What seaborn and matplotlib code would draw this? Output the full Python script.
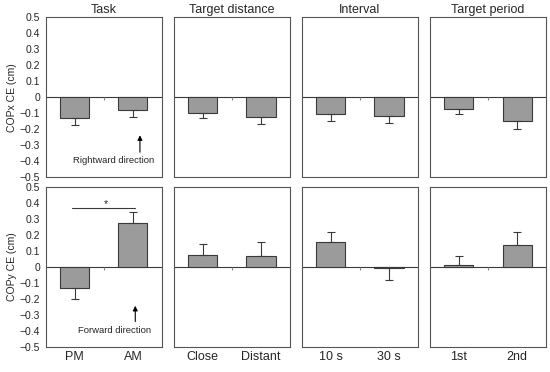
import numpy as np
import pandas as pd
import matplotlib
matplotlib.use("Agg")
from matplotlib import pyplot as plt
import seaborn as sns

# factor names and levels
factors = ["Task", "Target distance", "Interval", "Target period"]
levels = [["PM", "AM"], ["Close", "Distant"], ["10 s", "30 s"], ["1st", "2nd"]]

# COPx constant error (cm): means and error-bar ends
copx_mean = [[-0.13, -0.08], [-0.094, -0.125], [-0.104, -0.117], [-0.073, -0.148]]
copx_sd = [[0.043, 0.04], [0.036, 0.041], [0.04, 0.041], [0.033, 0.046]]

# COPy constant error (cm)
copy_mean = [[-0.13, 0.273], [0.073, 0.07], [0.154, -0.005], [0.013, 0.133]]
copy_sd = [[0.07, 0.071], [0.069, 0.084], [0.066, 0.078], [0.057, 0.087]]

sns.set_style("white")
plt.rcParams["font.family"] = ["Liberation Sans", "DejaVu Sans"]

fig, axes = plt.subplots(2, 4, figsize=(5.5, 3.72), dpi=100, sharey=True)
fig.subplots_adjust(left=0.083, right=0.993, top=0.953, bottom=0.068,
                    wspace=0.1, hspace=0.058)

rows = [(copx_mean, copx_sd, "COPx CE (cm)"), (copy_mean, copy_sd, "COPy CE (cm)")]
for r, (means, sds, ylab) in enumerate(rows):
    for c in range(4):
        ax = axes[r, c]
        df = pd.DataFrame({"level": levels[c], "ce": means[c]})
        sns.barplot(data=df, x="level", y="ce", ax=ax, color="#9b9b9b",
                    saturation=1, width=0.5, edgecolor="#3a3a3a", linewidth=0.8)
        m = np.array(means[c])
        s = np.array(sds[c])
        lower = np.where(m < 0, s, 0)
        upper = np.where(m >= 0, s, 0)
        ax.errorbar(range(len(m)), m, yerr=[lower, upper], fmt="none",
                    ecolor="#3a3a3a", elinewidth=0.8, capsize=3, capthick=0.8)
        ax.axhline(0, color="#3a3a3a", lw=0.8, zorder=0)
        ax.vlines(0.5, -0.018, 0, color="#888888", lw=0.8)
        ax.set_xlim(-0.5, 1.5)
        ax.set_ylim(-0.5, 0.5)
        ax.set_yticks(np.round(np.arange(-0.5, 0.51, 0.1), 1))
        ax.yaxis.set_major_formatter(matplotlib.ticker.FuncFormatter(
            lambda v, p: "0" if abs(v) < 1e-9 else ("%.1f" % v).replace("-", "\u2212")))
        ax.tick_params(axis="y", direction="out", length=3, width=0.6,
                       color="#555555", labelsize=7.5, pad=1)
        ax.tick_params(axis="x", length=0, labelsize=9, pad=3)
        for sp in ax.spines.values():
            sp.set_color("#555555")
            sp.set_linewidth(0.8)
        ax.set_xlabel("")
        if c == 0:
            ax.set_ylabel(ylab, fontsize=7.5, labelpad=2)
        else:
            ax.set_ylabel("")
            ax.tick_params(axis="y", labelleft=False)
        if r == 0:
            ax.set_title(factors[c], fontsize=9, pad=3)
            ax.set_xticklabels([])

# direction annotations
axes[0, 0].annotate("", xy=(1.12, -0.219), xytext=(1.12, -0.36),
                    arrowprops=dict(arrowstyle="-|>", color="black", lw=0.8,
                                    mutation_scale=7))
axes[0, 0].text(0.66, -0.397, "Rightward direction", fontsize=6.8,
                ha="center", va="center")
axes[1, 0].annotate("", xy=(1.04, -0.227), xytext=(1.04, -0.36),
                    arrowprops=dict(arrowstyle="-|>", color="black", lw=0.8,
                                    mutation_scale=7))
axes[1, 0].text(0.69, -0.4, "Forward direction", fontsize=6.8,
                ha="center", va="center")

# significance marker
axes[1, 0].plot([-0.055, 1.04], [0.365, 0.365], color="#3a3a3a", lw=0.8)
axes[1, 0].text(0.53, 0.39, "*", fontsize=7.5, ha="center", va="center")

plt.savefig("out.png", dpi=100)
